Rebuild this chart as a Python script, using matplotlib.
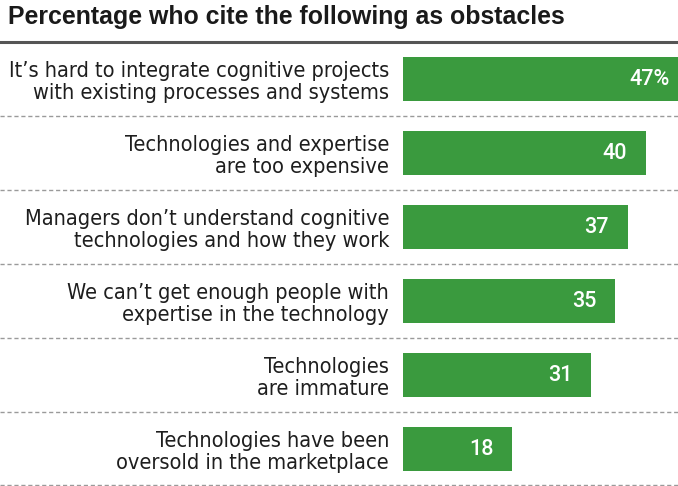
import matplotlib
matplotlib.use("Agg")
import matplotlib.pyplot as plt
from matplotlib.lines import Line2D
from matplotlib import transforms

# Survey results: share of respondents citing each obstacle
obstacles = [
    "It\u2019s hard to integrate cognitive projects\nwith existing processes and systems",
    "Technologies and expertise\nare too expensive",
    "Managers don\u2019t understand cognitive\ntechnologies and how they work",
    "We can\u2019t get enough people with\nexpertise in the technology",
    "Technologies\nare immature",
    "Technologies have been\noversold in the marketplace",
]
percentages = [47, 40, 37, 35, 31, 18]
value_labels = ["47%", "40", "37", "35", "31", "18"]
title = "Percentage who cite the following as obstacles"

GREEN = "#3a9a3e"
LABEL_FONT = ["DejaVu Sans"]
VALUE_FONT = ["Roboto", "DejaVu Sans"]

W, H = 678, 486
fig = plt.figure(figsize=(W / 100, H / 100), dpi=100)
fig.patch.set_facecolor("white")

top_px = 42
ax = fig.add_axes([403 / W, 0, 275 / W, (H - top_px) / H])
ax.set_xlim(0, 275 / 6.07)
ax.set_ylim(len(obstacles) - 0.5, -0.5)

rows = list(range(len(obstacles)))
ax.barh(rows, percentages, height=44 / 74, color=GREEN, edgecolor="none")

for r, v, lab in zip(rows, percentages, value_labels):
    ax.annotate(lab, xy=(v, r), xytext=(-19, 0), textcoords="offset pixels",
                ha="right", va="center", color="white", fontsize=15.5,
                family=VALUE_FONT, fontweight="medium", annotation_clip=False)

ax.set_yticks(rows)
ax.set_yticklabels(obstacles, family=LABEL_FONT, fontstretch="condensed",
                   fontsize=15.6, color="#1e1e1e", linespacing=1.12)
ax.tick_params(axis="y", length=0, pad=10)
ax.tick_params(axis="x", bottom=False, labelbottom=False)
for s in ax.spines.values():
    s.set_visible(False)

# Row separators spanning the full figure width
trans = transforms.blended_transform_factory(fig.transFigure, ax.transData)
fig.add_artist(Line2D([0, 1], [-0.5, -0.5], transform=trans, color="#555555",
                      linewidth=2.2))
for y in [0.5, 1.5, 2.5, 3.5, 4.5, 5.485]:
    fig.add_artist(Line2D([0, 1], [y, y], transform=trans, color="#9a9a9a",
                          linewidth=1.0, linestyle=(0, (3, 2))))

fig.text(8 / W, 1 - 17 / H, title, ha="left", va="center", fontsize=17.9,
         fontweight="bold", family=["Liberation Sans", "DejaVu Sans"],
         color="#1a1a1a")

fig.savefig("out.png", dpi=100, facecolor="white")
